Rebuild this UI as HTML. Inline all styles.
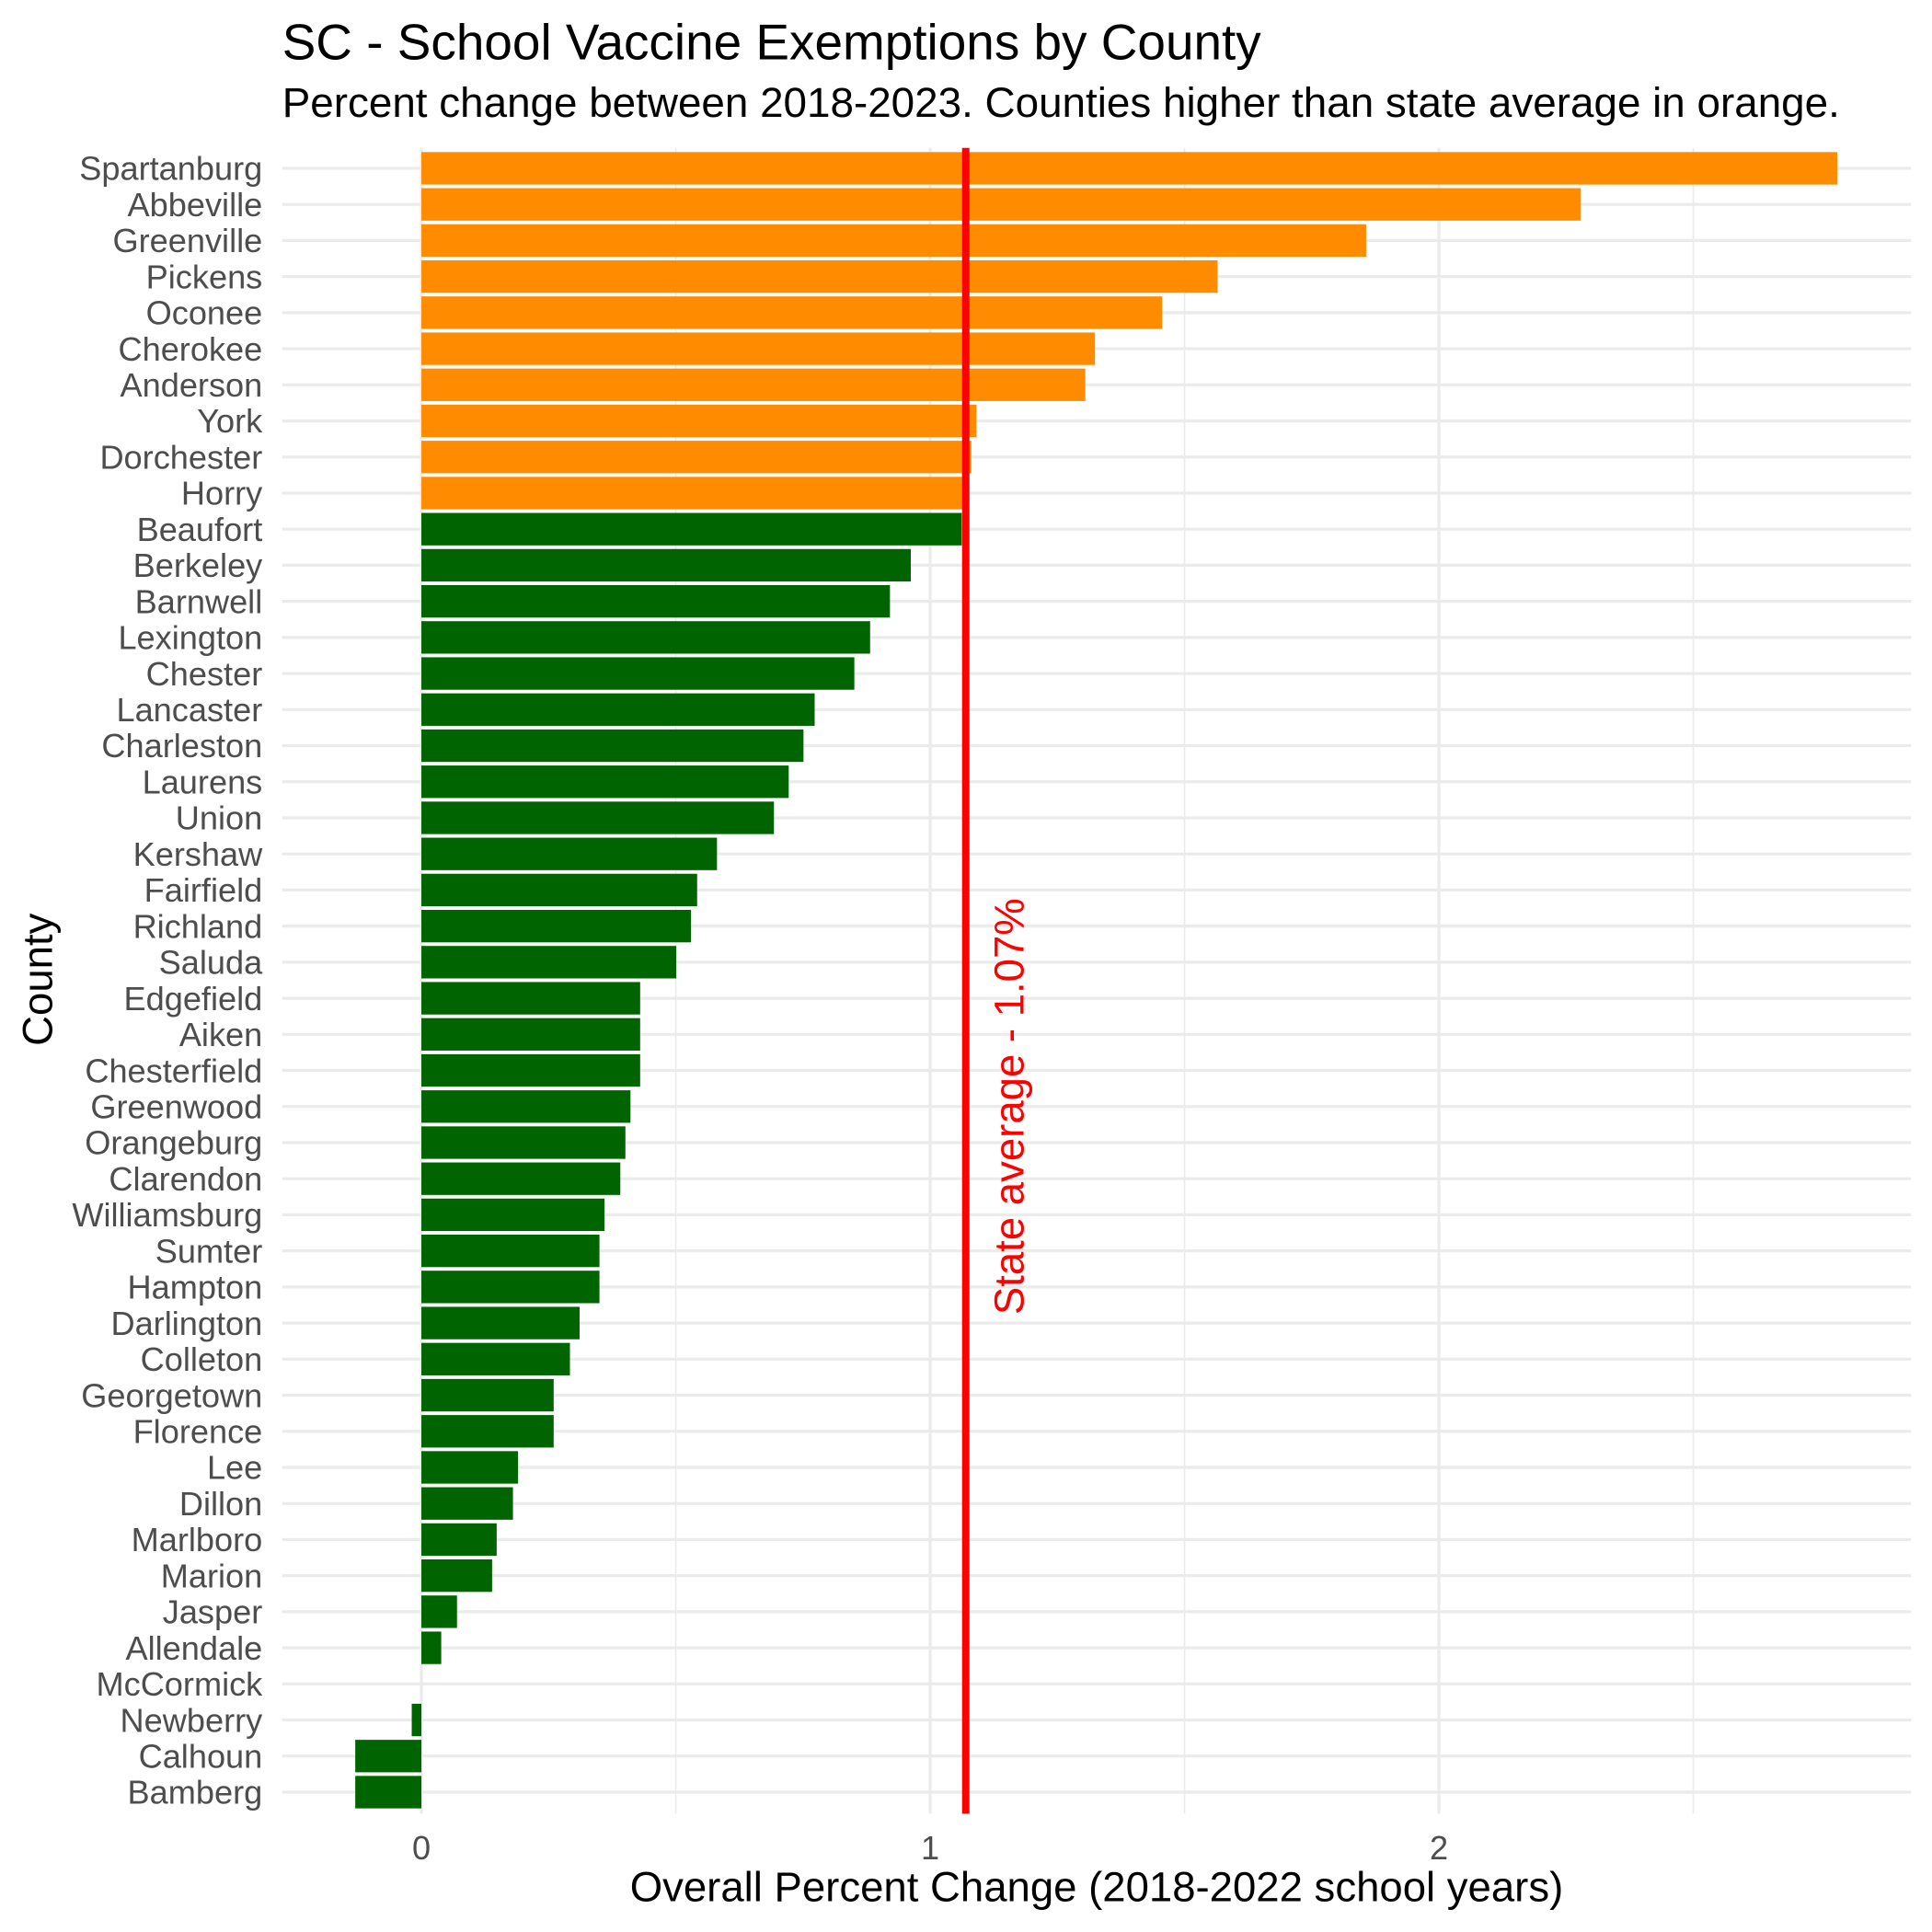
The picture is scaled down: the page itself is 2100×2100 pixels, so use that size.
<!DOCTYPE html>
<html><head><meta charset="utf-8"><style>
html,body{margin:0;padding:0;background:#fff;}
svg{display:block;font-family:"Liberation Sans",Arial,sans-serif;}
</style></head><body>
<svg id="chart" width="2100" height="2100" viewBox="0 0 1568 1568" xmlns="http://www.w3.org/2000/svg">
<text x="229" y="48" font-size="41" fill="#000">SC - School Vaccine Exemptions by County</text>
<text x="229" y="95" font-size="34.2" fill="#000">Percent change between 2018-2023. Counties higher than state average in orange.</text>
<g id="grid"></g>
<g id="bars"></g>
<g id="ylabels"></g>
<g id="xlabels"></g>
<g id="avg"></g>
<text x="890" y="1543" font-size="34" text-anchor="middle" fill="#000">Overall Percent Change (2018-2022 school years)</text>
<text transform="translate(42,795) rotate(-90)" font-size="34" text-anchor="middle" fill="#000">County</text>
</svg>
<script>
const counties = ["Spartanburg","Abbeville","Greenville","Pickens","Oconee","Cherokee","Anderson","York","Dorchester","Horry","Beaufort","Berkeley","Barnwell","Lexington","Chester","Lancaster","Charleston","Laurens","Union","Kershaw","Fairfield","Richland","Saluda","Edgefield","Aiken","Chesterfield","Greenwood","Orangeburg","Clarendon","Williamsburg","Sumter","Hampton","Darlington","Colleton","Georgetown","Florence","Lee","Dillon","Marlboro","Marion","Jasper","Allendale","McCormick","Newberry","Calhoun","Bamberg"];
const values = [2.783,2.279,1.857,1.565,1.456,1.324,1.305,1.091,1.081,1.072,1.062,0.962,0.921,0.882,0.851,0.773,0.751,0.722,0.693,0.581,0.542,0.530,0.501,0.430,0.430,0.430,0.411,0.401,0.391,0.360,0.350,0.350,0.311,0.292,0.260,0.260,0.190,0.180,0.148,0.139,0.070,0.039,0,-0.019,-0.130,-0.130];
const stateAverage = 1.07;
const xTicks = [0,1,2];
const xMinor = [0.5,1.5,2.5];

const NS="http://www.w3.org/2000/svg";
const panelL=229, panelR=1551, panelT=120, panelB=1472;
const x = v => 342.0 + v*412.9;
const step = (1454.5-136.6)/(counties.length-1);
const y = i => 136.6 + i*step;
function mk(tag, attrs, parent){const e=document.createElementNS(NS,tag);for(const k in attrs)e.setAttribute(k,attrs[k]);parent.appendChild(e);return e;}
const grid=document.getElementById('grid'), bars=document.getElementById('bars'),
 yl=document.getElementById('ylabels'), xl=document.getElementById('xlabels'), avg=document.getElementById('avg');
xMinor.forEach(v=>{const l=mk('line',{x1:x(v),x2:x(v),y1:panelT,y2:panelB,stroke:'#ebebeb','stroke-width':1.2},grid);

});
xTicks.forEach(v=>{const l=mk('line',{x1:x(v),x2:x(v),y1:panelT,y2:panelB,stroke:'#ebebeb','stroke-width':2.4},grid);


const t=mk('text',{x:x(v),y:1509,'font-size':27,'text-anchor':'middle',fill:'#4d4d4d'},xl);t.textContent=v;

});
counties.forEach((c,i)=>{const l=mk('line',{x1:panelL,x2:panelR,y1:y(i),y2:y(i),stroke:'#ebebeb','stroke-width':2.4},grid);


const t=mk('text',{x:213,y:y(i)+9.5,'font-size':27,'text-anchor':'end',fill:'#4d4d4d'},yl);t.textContent=c;

});
const bh=step*0.9;
counties.forEach((c,i)=>{const v=values[i];const x0=Math.min(x(0),x(v)),w=Math.abs(x(v)-x(0));
const r=mk('rect',{x:x0,y:y(i)-bh/2,width:w,height:bh,fill:v>stateAverage?'#ff8c00':'#006400'},bars);

});
const al=mk('line',{x1:x(stateAverage),x2:x(stateAverage),y1:panelT,y2:panelB,stroke:'#ff0000','stroke-width':6},avg);


const at=mk('text',{transform:'translate('+(x(stateAverage)+47)+',898) rotate(-90)','font-size':34,'text-anchor':'middle',fill:'#ff0000'},avg);
at.textContent='State average - 1.07%';


</script>
</body></html>
